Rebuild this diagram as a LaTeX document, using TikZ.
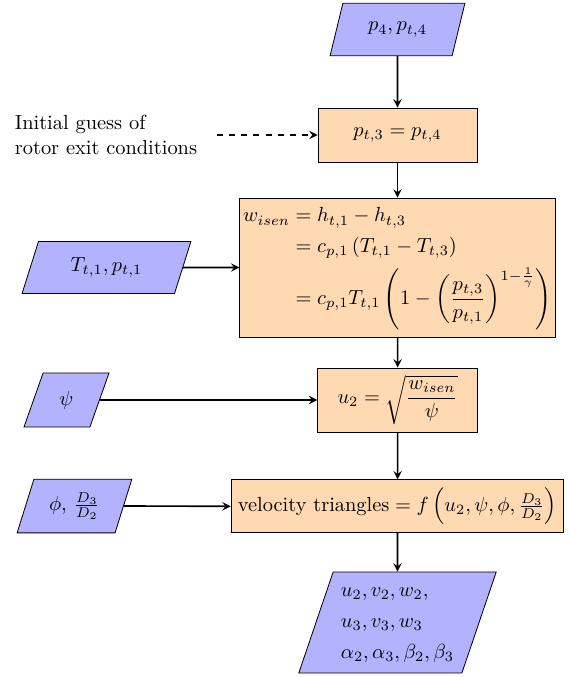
\documentclass[tikz,border=0pt]{standalone}
\usepackage{amsmath}
\usetikzlibrary{shapes.geometric,arrows}
\begin{document}
\begin{tikzpicture}[x=0.49pt,y=-0.49pt,
  io/.style={trapezium, trapezium left angle=71, trapezium right angle=109,
    trapezium stretches=true, draw, fill=blue!30, inner sep=2pt},
  proc/.style={rectangle, draw, fill=orange!30},
  flow/.style={thick, ->, >=stealth}]
\useasboundingbox (0,0) rectangle (569,677);
\node[io, minimum width=66.2pt, minimum height=25.7pt] (top) at (397.5,29.5) {$p_4, p_{t,4}$};
\node[proc, minimum width=77.9pt, minimum height=26.5pt] (pt3) at (397.5,135) {$p_{t,3} = p_{t,4}$};
\node[align=left] (guess) at (106,135) {Initial guess of\\rotor exit conditions};
\node[proc, inner xsep=1.6pt, minimum width=154.4pt, minimum height=68.1pt] (big) at (397.5,267.5)
  {$\begin{aligned} w_{isen} &= h_{t,1} - h_{t,3}\\
   &= c_{p,1}\left(T_{t,1} - T_{t,3}\right)\\
   &= c_{p,1} T_{t,1}\left(1 - \left(\frac{p_{t,3}}{p_{t,1}}\right)^{1-\frac{1}{\gamma}}\right)\end{aligned}$};
\node[io, minimum width=82.8pt, minimum height=25.5pt] (T) at (106.5,267.5) {$T_{t,1}, p_{t,1}$};
\node[proc, minimum width=78.4pt, minimum height=31.4pt] (u2) at (397.7,400) {$u_2 = \sqrt{\dfrac{w_{isen}}{\psi}}$};
\node[io, minimum width=41.7pt, minimum height=26.5pt] (psi) at (66.5,400) {$\psi$};
\node[proc, minimum width=162.3pt, minimum height=26pt] (vel) at (397.5,506.3)
  {$\text{velocity triangles} = f\left(u_2, \psi, \phi, \frac{D_3}{D_2}\right)$};
\node[io, minimum width=56.4pt, minimum height=26.3pt] (phi) at (74.5,506) {$\phi$, $\frac{D_3}{D_2}$};
\node[io, minimum width=97.5pt, minimum height=49.5pt] (out) at (397.5,622.5)
  {$\begin{aligned} &u_2, v_2, w_2,\\ &u_3, v_3, w_3\\ &\alpha_2, \alpha_3, \beta_2, \beta_3\end{aligned}$};
\draw[flow] (top) -- (pt3);
\draw[flow] (pt3) -- (big);
\draw[flow] (big) -- (u2);
\draw[flow] (u2) -- (vel);
\draw[flow] (vel) -- (out);
\draw[flow] (T.east) -- (big.west);
\draw[flow] (psi.east) -- (u2.west);
\draw[flow] (phi.east) -- (vel.west);
\draw[flow, dashed, shorten <=6pt] (guess.east) -- (pt3.west);
\end{tikzpicture}
\end{document}
